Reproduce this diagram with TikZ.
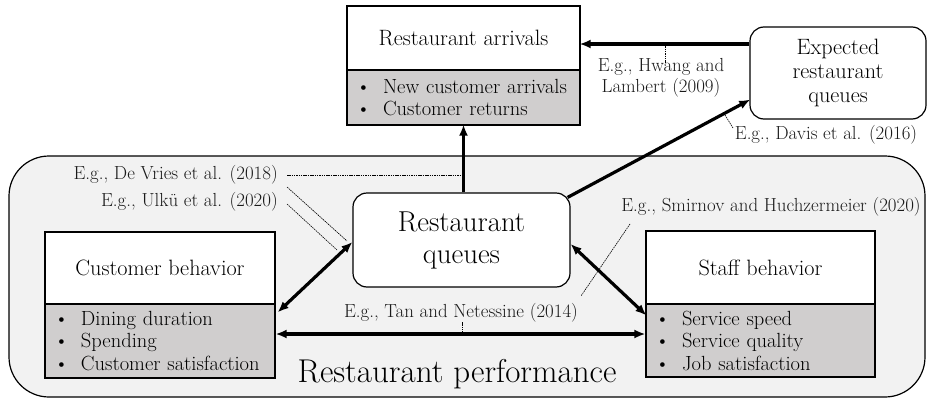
\documentclass[tikz,border=0pt]{standalone}
\usetikzlibrary{arrows.meta,calc}
\definecolor{perffill}{HTML}{F2F2F2}
\definecolor{listfill}{HTML}{D0CECE}
\definecolor{labcol}{HTML}{1A1A1A}
\begin{document}
\begin{tikzpicture}[x=1pt,y=-1pt,
  titlebox/.style={draw, line width=1.2pt, fill=white, inner sep=0pt, font=\fontsize{22.2}{26}\selectfont},
  listbox/.style={draw, line width=1.2pt, fill=listfill, inner xsep=9pt, inner ysep=0pt, align=left, font=\fontsize{20.5}{22.5}\selectfont},
  roundbox/.style={draw, line width=1.2pt, fill=white, rounded corners=14pt, inner sep=0pt, align=center},
  lab/.style={text=labcol, inner sep=1pt, font=\fontsize{18.9}{21}\selectfont},
  big/.style={line width=3.2pt, -{Latex[length=11pt,width=9pt]}, shorten >=-1pt},
  bigboth/.style={line width=3.2pt, {Latex[length=11pt,width=9pt]}-{Latex[length=11pt,width=9pt]}},
  thin/.style={line width=0.6pt, dash pattern=on 1.5pt off 0.8pt}
]
\useasboundingbox (0,0) rectangle (927,399);
% performance container
\node[draw, line width=1.2pt, fill=perffill, rounded corners=40pt, minimum width=916pt, minimum height=241pt, inner sep=0pt] (perf) at (467,276.5) {};
\node[font=\fontsize{33}{38}\selectfont, inner sep=0pt] (perftxt) at (457,374) {Restaurant performance};

% restaurant arrivals
\node[titlebox, minimum width=233pt, minimum height=64pt] (arrT) at (463.5,38) {Restaurant arrivals};
\node[listbox, minimum width=233pt, minimum height=55pt, text width=215pt] (arrL) at (463.5,97.5)
  {\makebox[27pt][l]{\textbullet}New customer arrivals\\ \makebox[27pt][l]{\textbullet}Customer returns};

% expected queues
\node[roundbox, minimum width=176pt, minimum height=92pt, font=\fontsize{22.2}{24}\selectfont] (exp) at (838,73) {Expected\\restaurant\\queues};

% restaurant queues
\node[roundbox, minimum width=217pt, minimum height=94pt, font=\fontsize{28.8}{32}\selectfont] (queues) at (461.5,240) {Restaurant\\queues};

% customer behavior
\node[titlebox, minimum width=230pt, minimum height=72pt] (custT) at (160,268) {Customer behavior};
\node[listbox, minimum width=230pt, minimum height=74pt, text width=212pt] (custL) at (160,341)
  {\makebox[27pt][l]{\textbullet}Dining duration\\ \makebox[27pt][l]{\textbullet}Spending\\ \makebox[27pt][l]{\textbullet}Customer satisfaction};

% staff behavior
\node[titlebox, minimum width=229pt, minimum height=73pt] (staffT) at (760.5,267.5) {Staff behavior};
\node[listbox, minimum width=229pt, minimum height=73pt, text width=211pt] (staffL) at (760.5,340.5)
  {\makebox[27pt][l]{\textbullet}Service speed\\ \makebox[27pt][l]{\textbullet}Service quality\\ \makebox[27pt][l]{\textbullet}Job satisfaction};

% labels
\node[lab, align=center] (hwang) at (661,78) {E.g., Hwang and\\Lambert (2009)};
\node[lab] (davis) at (826,135) {E.g., Davis et al. (2016)};
\node[lab, anchor=east] (devries) at (279,175) {E.g., De Vries et al. (2018)};
\node[lab, anchor=east] (ulku) at (279,202) {E.g., Ulkü et al. (2020)};
\node[lab] (smirnov) at (771,207) {E.g., Smirnov and Huchzermeier (2020)};
\node[lab] (tan) at (461,313) {E.g., Tan and Netessine (2014)};

% main arrows
\draw[big] ([yshift=29pt]exp.west) -- (arrT.east |- 0,44);
\draw[big] (queues.north -| arrL.south) -- (arrL.south);
\draw[big] ([shift={(-3,5)}]queues.north east) -- ([yshift=-27pt]exp.west);
\draw[bigboth] ([yshift=-2pt]queues.west) -- ([shift={(2,9)}]custL.north east);
\draw[bigboth] ([yshift=-4pt]queues.east) -- ([shift={(1,12)}]staffL.north west);
\coordinate (tanc) at (461,334);
\draw[bigboth] (custL.east |- tanc) -- (staffL.west |- tanc);

% reference ticks
\coordinate (hw1) at (665,44);  \coordinate (hw2) at (665,63);
\draw[thin] (hw1) -- (hw2);
\coordinate (dv1) at (725,115); \coordinate (dv2) at (733,128);
\draw[thin] (dv1) -- (dv2);
\coordinate (dr1) at (464,175);
\draw[thin] ([xshift=8pt]devries.east) -- (dr1);
\coordinate (dr2) at (347,241);
\draw[thin] ([shift={(8,12)}]devries.east) -- (dr2);
\coordinate (ul1) at (337,250);
\draw[thin] ([shift={(8,2)}]ulku.east) -- (ul1);
\coordinate (sm1) at (630,224); \coordinate (sm2) at (581,296);
\draw[thin] (sm1) -- (sm2);
\coordinate (tn1) at (462,322); \coordinate (tn2) at (462,332);
\draw[thin] (tn1) -- (tn2);
\end{tikzpicture}
\end{document}
